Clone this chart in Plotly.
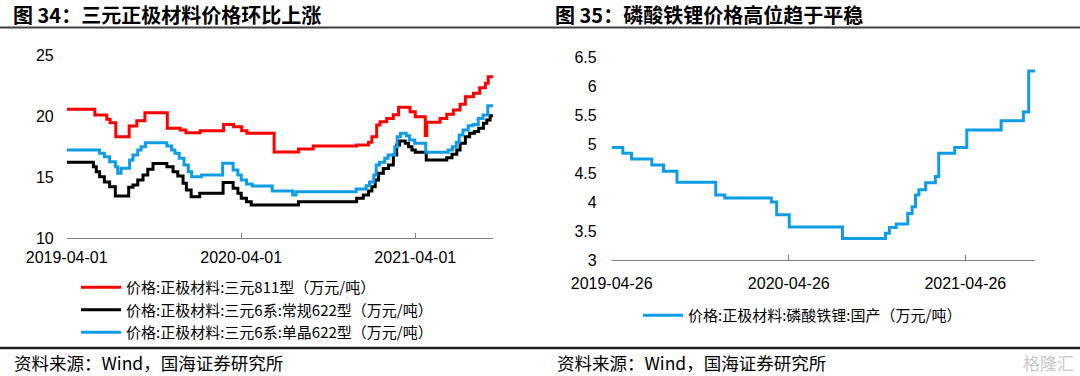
import plotly.graph_objects as go

# ---------------- data ----------------
ncm811_dates = ["2019-04-01","2019-05-30","2019-06-24","2019-07-01","2019-07-13","2019-08-10","2019-08-26",
                "2019-09-12","2019-10-29","2019-11-25","2019-12-07","2020-01-06","2020-02-24","2020-03-16",
                "2020-04-02","2020-04-13","2020-06-09","2020-07-30","2020-08-30","2020-11-29","2020-12-24",
                "2020-12-31","2021-01-10","2021-01-17","2021-01-31","2021-02-14","2021-02-25","2021-03-21",
                "2021-04-01","2021-04-22","2021-04-25","2021-05-23","2021-06-06","2021-06-20","2021-07-04",
                "2021-07-15","2021-08-01","2021-08-14","2021-08-26","2021-09-01","2021-09-11"]
ncm811_vals = [20.55,20.08,19.73,19.45,18.3,19.18,19.62,
               20.27,19.0,18.85,18.63,18.8,19.3,19.12,
               18.8,18.58,17.05,17.3,17.54,17.62,17.84,
               18.3,19.26,19.53,19.8,20.1,20.72,20.35,
               19.94,18.4,19.48,19.8,20.14,20.5,20.96,
               21.58,21.86,22.32,22.68,23.22,23.22]

ncm622_dates = ["2019-04-01","2019-05-27","2019-06-02","2019-06-09","2019-06-19","2019-06-30","2019-07-12",
                "2019-08-09","2019-08-18","2019-08-28","2019-09-08","2019-09-18","2019-09-29","2019-10-28",
                "2019-11-10","2019-11-20","2019-12-01","2019-12-08","2019-12-18","2020-01-05","2020-02-23",
                "2020-03-15","2020-03-25","2020-04-01","2020-04-12","2020-04-22","2020-07-30","2020-11-29",
                "2020-12-13","2020-12-24","2020-12-31","2021-01-07","2021-01-14","2021-01-24","2021-02-04",
                "2021-02-14","2021-02-21","2021-02-27","2021-03-11","2021-03-18","2021-03-25","2021-04-01",
                "2021-04-24","2021-06-06","2021-06-17","2021-06-27","2021-07-04","2021-07-15","2021-07-24",
                "2021-08-03","2021-08-12","2021-08-22","2021-08-29","2021-09-05","2021-09-11"]
ncm622_vals = [16.2,15.85,15.44,15.02,14.6,14.2,13.44,
               14.16,14.34,14.75,15.16,15.63,16.1,15.85,
               15.44,15.08,14.48,13.93,13.38,13.66,14.54,
               14.07,13.66,13.25,12.98,12.7,12.98,13.25,
               13.52,13.85,14.2,14.75,15.3,15.7,15.98,
               16.8,17.62,17.95,17.76,17.48,17.21,17.02,
               16.39,16.58,16.86,17.21,17.76,18.3,18.58,
               18.72,19.0,19.4,19.67,20.03,20.03]

ncm622s_dates = ["2019-04-01","2019-06-09","2019-06-19","2019-06-30","2019-07-12","2019-07-17","2019-07-24",
                 "2019-08-11","2019-08-18","2019-08-28","2019-09-04","2019-09-13","2019-10-28","2019-11-07",
                 "2019-11-14","2019-11-23","2019-12-03","2019-12-12","2019-12-19","2020-01-09","2020-02-22",
                 "2020-03-15","2020-03-25","2020-04-01","2020-04-12","2020-04-24","2020-06-05","2020-07-18",
                 "2020-07-25","2020-11-28","2020-12-19","2020-12-26","2021-01-04","2021-01-09","2021-01-16",
                 "2021-01-27","2021-02-03","2021-02-17","2021-02-22","2021-03-01","2021-03-13","2021-03-20",
                 "2021-03-31","2021-04-23","2021-06-09","2021-06-18","2021-06-26","2021-07-02","2021-07-10",
                 "2021-07-21","2021-07-31","2021-08-11","2021-08-21","2021-08-31","2021-09-11"]
ncm622s_vals = [17.21,16.94,16.67,16.25,15.85,15.3,15.72,
                16.39,16.8,17.21,17.48,17.81,17.54,17.21,
                16.94,16.53,15.98,15.44,15.02,15.16,16.12,
                15.57,15.16,14.75,14.43,14.26,13.85,13.52,
                13.8,14.02,14.29,14.6,15.16,15.98,16.2,
                16.53,16.8,17.48,18.3,18.58,18.39,18.03,
                17.76,17.02,17.21,17.48,17.84,18.44,18.85,
                19.2,19.3,19.8,20.08,20.85,20.85]

lfp_dates = ["2019-04-26","2019-05-19","2019-06-06","2019-07-18","2019-08-11","2019-09-08","2019-11-27",
             "2019-12-16","2020-03-21","2020-04-01","2020-04-27","2020-08-15","2020-11-12","2020-11-20",
             "2020-12-04","2020-12-28","2021-01-06","2021-01-13","2021-01-20","2021-02-03","2021-02-23",
             "2021-03-02","2021-04-04","2021-04-29","2021-07-09","2021-08-24","2021-09-04","2021-09-17"]
lfp_vals = [4.94,4.84,4.74,4.64,4.53,4.34,4.12,
            4.07,4.0,3.78,3.57,3.37,3.46,3.56,
            3.62,3.8,3.92,4.12,4.21,4.33,4.44,
            4.84,4.94,5.24,5.4,5.55,6.26,6.26]

left_ticks = ["2019-04-01", "2020-04-01", "2021-04-01"]
right_ticks = ["2019-04-26", "2020-04-26", "2021-04-26"]
left_yticks = [10, 15, 20, 25]
right_yticks = [3, 3.5, 4, 4.5, 5, 5.5, 6, 6.5]

names = ["价格:正极材料:三元811型（万元/吨）",
         "价格:正极材料:三元6系:常规622型（万元/吨）",
         "价格:正极材料:三元6系:单晶622型（万元/吨）"]
lfp_name = "价格:正极材料:磷酸铁锂:国产（万元/吨）"

# ---------------- layout helpers ----------------
W, H = 1080, 376
def fx(px): return px / W
def fy(py): return (H - py) / H

RED, BLACK, BLUE = "#FF0000", "#000000", "#0E9CE3"
FONT = "Liberation Sans, Arial, Noto Sans CJK SC, sans-serif"
CJK = "Noto Sans CJK SC, sans-serif"

fig = go.Figure()
for d, v, n, c in [(ncm811_dates, ncm811_vals, names[0], RED),
                   (ncm622_dates, ncm622_vals, names[1], BLACK),
                   (ncm622s_dates, ncm622s_vals, names[2], BLUE)]:
    fig.add_trace(go.Scatter(x=d, y=v, name=n, mode="lines", line=dict(color=c, width=3, shape="hv"),
                             xaxis="x", yaxis="y", legend="legend"))
fig.add_trace(go.Scatter(x=lfp_dates, y=lfp_vals, name=lfp_name, mode="lines",
                         line=dict(color=BLUE, width=3, shape="hv"),
                         xaxis="x2", yaxis="y2", legend="legend2"))

axis_common = dict(showgrid=False, zeroline=False, automargin=False,
                   tickfont=dict(family=FONT, size=16, color="#000"))
fig.update_layout(
    width=W, height=H, margin=dict(l=0, r=0, t=0, b=0, autoexpand=False),
    paper_bgcolor="white", plot_bgcolor="white", showlegend=True,
    xaxis=dict(domain=[fx(66.7), fx(493)], range=["2019-04-01", "2021-09-11"], type="date",
               tickvals=left_ticks, ticktext=left_ticks, ticks="inside", ticklen=5, tickcolor="#808080",
               showline=True, linecolor="#808080", linewidth=1, anchor="y", ticklabelstandoff=5,
               **axis_common),
    yaxis=dict(domain=[fy(238), fy(55)], range=[10, 25], tickvals=left_yticks,
               ticktext=[str(t) for t in left_yticks], showline=False, ticks="",
               ticklabelstandoff=12, anchor="x", **axis_common),
    xaxis2=dict(domain=[fx(611.7), fx(1035)], range=["2019-04-26", "2021-09-17"], type="date",
                tickvals=right_ticks, ticktext=right_ticks, ticks="inside", ticklen=5, tickcolor="#808080",
                showline=True, linecolor="#808080", linewidth=1, anchor="y2", ticklabelstandoff=9,
                **axis_common),
    yaxis2=dict(domain=[fy(260), fy(57)], range=[3, 6.5], tickvals=right_yticks,
                ticktext=[f"{t:g}" for t in right_yticks], showline=False, ticks="",
                ticklabelstandoff=14, anchor="x2", **axis_common),
    legend=dict(x=fx(76), y=fy(271), xanchor="left", yanchor="top", orientation="v",
                font=dict(family=CJK, size=15, color="#000"), itemwidth=40,
                bgcolor="rgba(0,0,0,0)", tracegroupgap=0),
    legend2=dict(x=fx(638), y=fy(299), xanchor="left", yanchor="top", orientation="v",
                 font=dict(family=CJK, size=15, color="#000"), itemwidth=40,
                 bgcolor="rgba(0,0,0,0)"),
)

# titles
fig.add_annotation(text="<b>图 34：三元正极材料价格环比上涨</b>", x=fx(11), y=fy(14), xref="paper", yref="paper",
                   xanchor="left", yanchor="middle", showarrow=False,
                   font=dict(family=CJK, size=20, color="#000"))
fig.add_annotation(text="<b>图 35：磷酸铁锂价格高位趋于平稳</b>", x=fx(553), y=fy(14), xref="paper", yref="paper",
                   xanchor="left", yanchor="middle", showarrow=False,
                   font=dict(family=CJK, size=20, color="#000"))
# sources
for x0 in (12, 555):
    fig.add_annotation(text="资料来源：Wind，国海证券研究所", x=fx(x0), y=fy(362), xref="paper", yref="paper",
                       xanchor="left", yanchor="middle", showarrow=False,
                       font=dict(family=CJK, size=17.5, color="#000"))
fig.add_annotation(text="格隆汇", x=fx(1076), y=fy(362), xref="paper", yref="paper",
                   xanchor="right", yanchor="middle", showarrow=False,
                   font=dict(family=CJK, size=17, color="#C8C8C8"))

# separator rules
for y0, w, col in [(27.5, 2, "#404040"), (348, 2.5, "#222222")]:
    fig.add_shape(type="line", xref="paper", yref="paper", x0=0, x1=1, y0=fy(y0), y1=fy(y0),
                  line=dict(color=col, width=w))

fig.write_html("out.html", config={"displayModeBar": False},
               post_script="document.body.style.margin='0';")
